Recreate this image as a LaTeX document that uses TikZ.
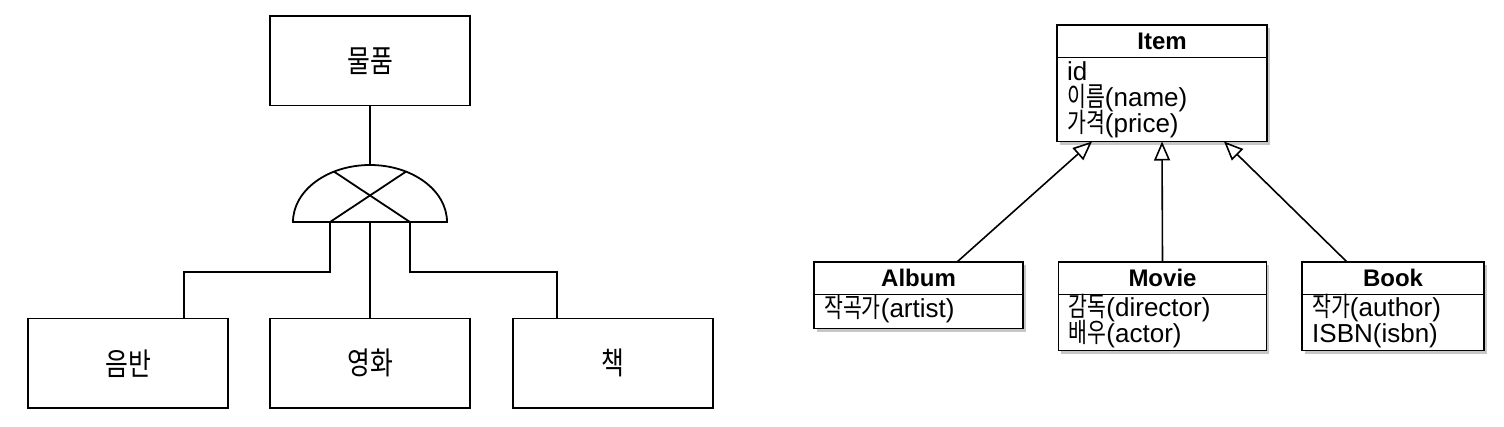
\documentclass[tikz,border=0pt]{standalone}
\usepackage{fontspec}
\setmainfont{Liberation Sans}
\newfontfamily\kr[FakeStretch=0.76]{Noto Sans CJK KR}
\newfontfamily\krl[FakeStretch=0.8]{Noto Sans CJK KR}
\newcommand\kor[1]{{\kr\fontsize{27}{26}\selectfont#1}}
\usetikzlibrary{arrows.meta}
\pgfdeclarelayer{bg}
\pgfsetlayers{bg,main}
\begin{document}
\begin{tikzpicture}[x=1pt,y=-1pt,
  ebox/.style={draw, line width=1.8pt, outer sep=0pt, inner sep=0pt, minimum width=200pt, minimum height=89.5pt, font=\krl\fontsize{31}{34}\selectfont},
  conn/.style={line width=1.8pt},
  umlhead/.style={draw, fill=white, line width=1.8pt, outer sep=0pt, inner sep=0pt, anchor=north, minimum height=32.5pt, font=\bfseries\fontsize{24}{28}\selectfont},
  umlbody/.style={draw, fill=white, line width=1.8pt, outer sep=0pt, inner sep=0pt, anchor=north},
  attr/.style={anchor=base west, inner sep=0pt, text height=19pt, text depth=5pt, font=\fontsize{26}{26}\selectfont},
  shadowc/.style={fill=black!22},
  inh/.style={line width=1.6pt, -{Triangle[open, length=19pt, width=16pt, line width=1.6pt]}}
]
\useasboundingbox (0,0) rectangle (1504,426);

% ---------- left diagram ----------
\node[ebox] (prod) at (370,60.75) {물품};
\node[ebox] (rec)  at (128,363.25) {음반};
\node[ebox] (film) at (370,363.25) {영화};
\node[ebox] (book0) at (613,363.25) {책};

\coordinate (gl) at (293,222);
\coordinate (gr) at (447,222);
\coordinate (gtop) at (370,165);
\coordinate (gmid) at (370,222);
\coordinate (xa1) at (334,171.6);
\coordinate (xa2) at (410,222);
\coordinate (xb1) at (406,171.6);
\coordinate (xb2) at (330,222);

\draw[conn, line join=miter] (gl) .. controls (293,190.5) and (327.5,165) .. (gtop)
   .. controls (412.5,165) and (447,190.5) .. (gr) -- cycle;
\draw[conn] (xa1) -- (xa2);
\draw[conn] (xb1) -- (xb2);

\draw[conn] (prod.south) -- (gtop);
\draw[conn] (gmid) -- (film.north);
\draw[conn] (xb2) -- ++(0,50) -| ([xshift=56pt]rec.north);
\draw[conn] (xa2) -- ++(0,50) -| ([xshift=-56pt]book0.north);

% ---------- right diagram (UML) ----------
\node[umlhead, minimum width=210pt] (itemh) at (1162,25) {Item};
\node[umlbody, minimum width=210pt, minimum height=84pt] (itemb) at (itemh.south) {};
\node[attr] (ia1) at ([xshift=10pt,yshift=-23pt]itemb.north west) {id};
\node[attr] (ia2) at ([xshift=10pt,yshift=-49pt]itemb.north west) {\kor{이름}(name)};
\node[attr] (ia3) at ([xshift=10pt,yshift=-75pt]itemb.north west) {\kor{가격}(price)};

\node[umlhead, minimum width=209pt] (albumh) at (918.5,262) {Album};
\node[umlbody, minimum width=209pt, minimum height=34pt] (albumb) at (albumh.south) {};
\node[attr] (aa1) at ([xshift=10pt,yshift=-23pt]albumb.north west) {\kor{작곡가}(artist)};

\node[umlhead, minimum width=208pt] (movieh) at (1162.5,262) {Movie};
\node[umlbody, minimum width=208pt, minimum height=56pt] (movieb) at (movieh.south) {};
\node[attr] (ma1) at ([xshift=10pt,yshift=-22pt]movieb.north west) {\kor{감독}(director)};
\node[attr] (ma2) at ([xshift=10pt,yshift=-48pt]movieb.north west) {\kor{배우}(actor)};

\node[umlhead, minimum width=182pt] (bookh) at (1393,262) {Book};
\node[umlbody, minimum width=182pt, minimum height=56pt] (bookb) at (bookh.south) {};
\node[attr] (ba1) at ([xshift=10pt,yshift=-22pt]bookb.north west) {\kor{작가}(author)};
\node[attr] (ba2) at ([xshift=10pt,yshift=-48pt]bookb.north west) {ISBN(isbn)};

\begin{pgfonlayer}{bg}
  \foreach \h/\b in {itemh/itemb, albumh/albumb, movieh/movieb, bookh/bookb}{
    \fill[shadowc] ([shift={(2.5pt,-3pt)}]\h.north west) rectangle ([shift={(2.5pt,-3pt)}]\b.south east);
  }
\end{pgfonlayer}

\draw[inh] ([xshift=38.5pt]albumh.north) -- ([xshift=35pt]itemb.south west);
\draw[inh] (movieh.north) -- (itemb.south);
\draw[inh] ([xshift=-46pt]bookh.north) -- ([xshift=-43pt]itemb.south east);
\end{tikzpicture}
\end{document}
